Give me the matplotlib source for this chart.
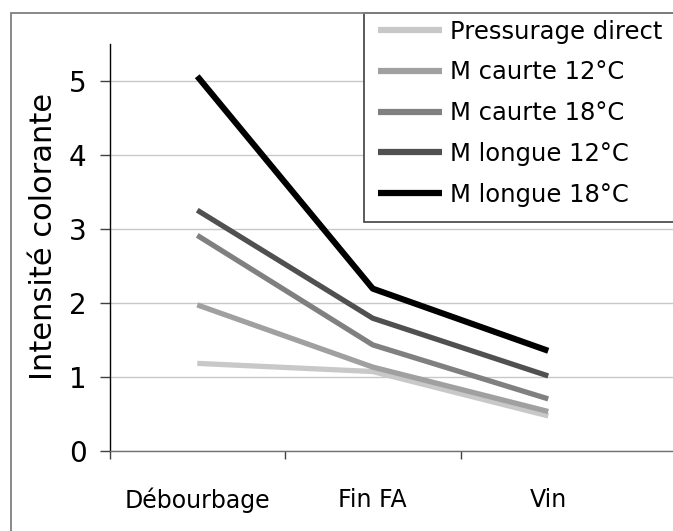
import matplotlib
matplotlib.use("Agg")
import matplotlib.pyplot as plt
from matplotlib.patches import Rectangle

categories = ["Débourbage", "Fin FA", "Vin"]
series_names = ["Pressurage direct", "M caurte 12°C", "M caurte 18°C", "M longue 12°C", "M longue 18°C"]
pressurage_direct = [1.18, 1.07, 0.47]
m_courte_12 = [1.97, 1.13, 0.53]
m_courte_18 = [2.91, 1.43, 0.70]
m_longue_12 = [3.25, 1.79, 1.01]
m_longue_18 = [5.06, 2.19, 1.35]
yticks = [0, 1, 2, 3, 4, 5]

series = [pressurage_direct, m_courte_12, m_courte_18, m_longue_12, m_longue_18]
colors = ["#c8c8c8", "#a0a0a0", "#808080", "#505050", "#000000"]
widths = [3.8, 3.8, 3.8, 3.8, 4.4]

W, H = 673, 531
fig = plt.figure(figsize=(W / 100, H / 100), dpi=100)
plt.rcParams['font.family'] = ['DejaVu Sans']

# outer chart border
fig.patches.append(Rectangle((11 / W, -0.1), 1.2, 1 - 13 / H + 0.1, transform=fig.transFigure,
                             fill=False, edgecolor="#808080", linewidth=1.3))

ax_left = 109.5 / W
ax_bottom = (H - 450.7) / H
ax_height = (450.7 - 43.7) / H
ax = fig.add_axes([ax_left, ax_bottom, 1 - ax_left, ax_height])
ax.set_facecolor("none")

x = list(range(len(categories)))
for name, vals, c, lw in zip(series_names, series, colors, widths):
    ax.plot(x, vals, color=c, linewidth=lw, label=name, solid_capstyle="butt", zorder=3)

ax.set_ylim(0, 5.5)
ax.set_xlim(-0.5, -0.5 + (W - 109.5) / 175.5)
ax.set_yticks(yticks)
ax.set_yticklabels([str(v) for v in yticks], fontsize=20)
ax.tick_params(axis="y", length=7, width=1, color="#404040", pad=9.5, direction="out")
ax.yaxis.grid(True, color="#c8c8c8", linewidth=1)
ax.set_axisbelow(True)

ax.set_xticks(x)
ax.set_xticklabels(categories, fontsize=17)
ax.tick_params(axis="x", length=0, pad=26.5)
ax.set_xticks([-0.5, 0.5, 1.5], minor=True)
ax.tick_params(axis="x", which="minor", length=6, width=1, color="#404040", direction="out")

for s in ["top", "right"]:
    ax.spines[s].set_visible(False)
ax.spines["left"].set_color("black")
ax.spines["left"].set_linewidth(1)
ax.spines["bottom"].set_color("#707070")
ax.spines["bottom"].set_linewidth(1)

fig.text(44 / W, 1 - 236.5 / H, "Intensité colorante", rotation=90, ha="center", va="center", fontsize=22)

# legend box
ax.add_patch(Rectangle((364 / W, (H - 222) / H), 1.0, (222 - 12.5) / H, transform=fig.transFigure,
                       facecolor="white", edgecolor="#404040", linewidth=1.2, zorder=4, clip_on=False))

leg = ax.legend(loc="upper left", bbox_to_anchor=(378 / W, 1 - 19.5 / H), bbox_transform=fig.transFigure,
                borderaxespad=0, fontsize=17.5, frameon=False, handlelength=2.65,
                handletextpad=0.3, labelspacing=0.69, borderpad=0)
leg.set_zorder(5)
for h in leg.get_lines():
    h.set_linewidth(4.5)
    h.set_solid_capstyle("butt")

fig.savefig("out.png", dpi=100)
